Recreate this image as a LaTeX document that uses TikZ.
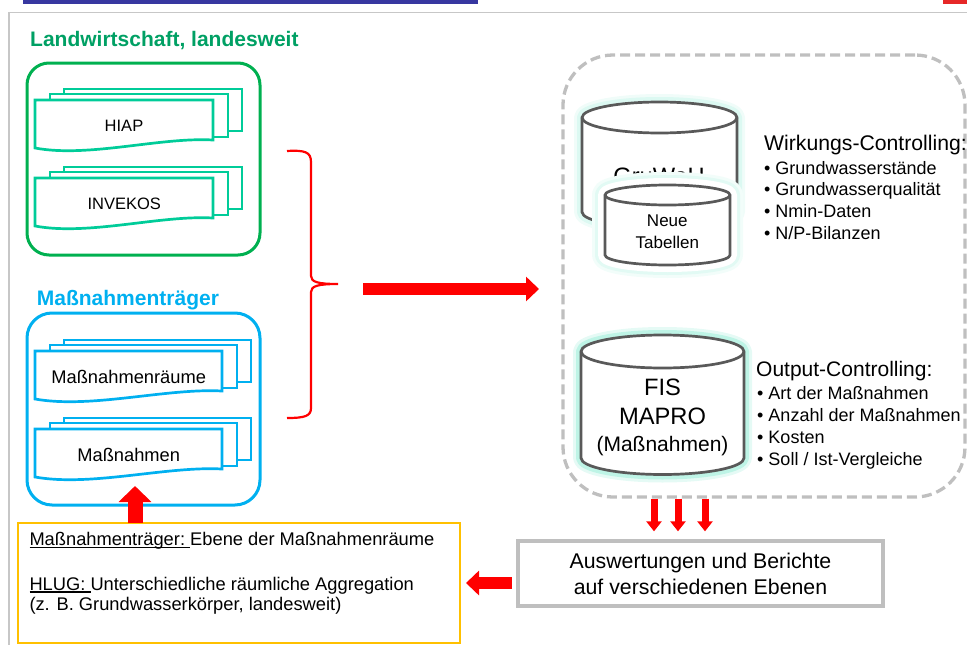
\documentclass[tikz,border=0pt]{standalone}
\usepackage{fontspec}
\setmainfont{Liberation Sans}
\usetikzlibrary{positioning,arrows.meta}

\definecolor{lwgreen}{RGB}{0,176,80}
\definecolor{lwhead}{RGB}{0,160,100}
\definecolor{sheetgreen}{RGB}{0,204,153}
\definecolor{mtblue}{RGB}{0,176,240}
\definecolor{infogold}{RGB}{255,192,0}
\definecolor{framegray}{RGB}{191,191,191}
\definecolor{dbgray}{RGB}{89,89,89}
\definecolor{glowc}{RGB}{110,230,200}
\definecolor{barblue}{RGB}{55,55,160}
\definecolor{barred}{RGB}{230,40,40}

% underlined word with the rule at a fixed depth
\newsavebox\ubox
\newcommand{\uword}[1]{\sbox\ubox{#1}\rlap{\rule[-2.6pt]{\wd\ubox}{1.3pt}}\usebox\ubox}

% stack of three sheets, #1,#2 top left of the front sheet, #3 width, #4 colour
\newcommand{\sheets}[4]{%
  \draw[#4, sheetline, fill=white] (#1+29,#2-11) rectangle (#1+29+#3,#2+31);
  \draw[#4, sheetline, fill=white] (#1+15,#2-6) rectangle (#1+15+#3,#2+37);
  \draw[#4, sheetline, fill=white] (#1,#2) -- (#1+#3,#2) -- (#1+#3,#2+40)
    .. controls (#1+0.7*#3,#2+37) and (#1+0.3*#3,#2+58) .. (#1,#2+48) -- cycle;
}

% database drum: centre x, top y, bottom y, x radius, y radius, glow strokes
\newcommand{\dbcyl}[6]{%
  \foreach \w/\c in {#6}
    \draw[line width=\w pt, line join=round, \c] (#1-#4,#2) -- (#1-#4,#3)
      arc[start angle=180, end angle=360, x radius=#4pt, y radius=#5pt]
      -- (#1+#4,#2) arc[start angle=0, end angle=180, x radius=#4pt, y radius=#5pt] -- cycle;
  \draw[dbline, fill=white] (#1-#4,#2) -- (#1-#4,#3)
    arc[start angle=180, end angle=360, x radius=#4pt, y radius=#5pt]
    -- (#1+#4,#2) arc[start angle=0, end angle=180, x radius=#4pt, y radius=#5pt] -- cycle;
  \draw[dbline] (#1-#4,#2) arc[start angle=180, end angle=360, x radius=#4pt, y radius=#5pt];
}

\begin{document}
\begin{tikzpicture}[x=1pt,y=-1pt,
  txt/.style={inner sep=0pt},
  sheetline/.style={line width=2.7pt},
  dbline/.style={draw=dbgray,line width=2.7pt},
  item/.style={txt,anchor=base west,font=\fontsize{18}{22}\selectfont},
  bigarrow/.style={red,line width=12pt,-{Triangle[length=13pt,width=24pt]}},
  uparrow/.style={red,line width=15pt,-{Triangle[length=16pt,width=32pt]}},
  smallarrow/.style={red,line width=7pt,-{Triangle[length=10pt,width=15pt]}}]
  \useasboundingbox (0,0) rectangle (967,645);

  %Page frame
  \fill[barblue] (23,0) rectangle (478,4);
  \fill[barred] (943,0) rectangle (967,3.5);
  \draw[black!22,line width=1.5pt] (9,645) -- (9,12.3) -- (967,12.3);

  %Left side: data sources
  \node[txt,anchor=base west,font=\bfseries\fontsize{21}{25}\selectfont,text=lwhead] (lwtitle) at (30,46.7) {Landwirtschaft, landesweit};
  \node[draw=lwgreen,line width=3pt,rounded corners=22pt,minimum width=233pt,minimum height=192pt] (lwbox) at (143.5,159) {};
  \sheets{35}{100}{178}{sheetgreen}
  \sheets{35}{178}{178}{sheetgreen}
  \node[txt,anchor=base,font=\fontsize{16.5}{20}\selectfont] (hiap) at (124,131.7) {HIAP};
  \node[txt,anchor=base,font=\fontsize{16.5}{20}\selectfont] (invekos) at (124.3,209.3) {INVEKOS};

  \node[txt,anchor=base west,font=\bfseries\fontsize{21}{25}\selectfont,text=mtblue] (mttitle) at (36.7,305) {Maßnahmenträger};
  \node[draw=mtblue,line width=3pt,rounded corners=25pt,minimum width=233pt,minimum height=192pt] (mtbox) at (143.5,409) {};
  \sheets{35}{351}{187}{mtblue}
  \sheets{35}{429}{187}{mtblue}
  \node[txt,anchor=base,font=\fontsize{18.3}{22}\selectfont] (raeume) at (128.7,383.3) {Maßnahmenräume};
  \node[txt,anchor=base,font=\fontsize{18.3}{22}\selectfont] (massn) at (128.7,461) {Maßnahmen};

  %Brace and arrow to the databases
  \draw[red,line width=2.2pt] (287,151) .. controls (305,150) and (311,152) .. (311,162) -- (311,276)
    .. controls (311,282) and (318,284) .. (338,284) .. controls (318,284) and (311,286) .. (311,292)
    -- (311,408) .. controls (311,416) and (305,418) .. (287,418);
  \coordinate (bracetip) at (363,289);
  \coordinate (ctrlin) at (539,289);
  \draw[bigarrow] (bracetip) -- (ctrlin);

  %Databases
  \node[draw=framegray,line width=3.3pt,dash pattern=on 10pt off 5pt,rounded corners=50pt,minimum width=402pt,minimum height=442pt] (ctrl) at (764,276) {};
  \dbcyl{659.5}{117.5}{212}{77.5}{15.5}{16/glowc!10!white, 10/glowc!24!white}
  \node[txt,anchor=base,font=\fontsize{23.7}{28}\selectfont] (gruwah) at (659,184) {GruWaH};
  \dbcyl{667.5}{195}{255}{62.5}{10}{26/glowc!9!white, 20/glowc!20!white, 14/white}
  \node[txt,align=center,font=\fontsize{17}{21.6}\selectfont] (neu) at (667.3,231.9) {Neue\\Tabellen};

  \dbcyl{662.5}{351.5}{458}{81.5}{16.5}{16/glowc!18!white, 10/glowc!45!white}
  \node[txt,anchor=base,font=\fontsize{23.7}{28}\selectfont] (fis) at (662.5,395) {FIS};
  \node[txt,anchor=base,font=\fontsize{23.7}{28}\selectfont] (mapro) at (662.5,424) {MAPRO};
  \node[txt,anchor=base,font=\fontsize{21}{25}\selectfont] (fisnote) at (662.5,451.7) {(Maßnahmen)};

  %Controlling lists
  \node[txt,anchor=base west,font=\fontsize{21.2}{25}\selectfont] (wirk) at (764,150) {Wirkungs-Controlling:};
  \foreach \t [count=\i from 0] in {Grundwasserstände,Grundwasserqualität,Nmin-Daten,N/P-Bilanzen}
    \node[item] (wirk\i) at (764,174+21.8*\i) {• \t};
  \node[txt,anchor=base west,font=\fontsize{21}{25}\selectfont] (outp) at (756,376.7) {Output-Controlling:};
  \foreach \t [count=\i from 0] in {Art der Maßnahmen,Anzahl der Maßnahmen,Kosten,Soll / Ist-Vergleiche}
    \node[item] (outp\i) at (757,399.3+21.9*\i) {• \t};

  %Reports
  \node[draw=framegray,line width=3.3pt,minimum width=365pt,minimum height=65pt,align=center,font=\fontsize{21.3}{26}\selectfont] (report) at (700.5,573.5) {Auswertungen und Berichte\\auf verschiedenen Ebenen};
  \foreach \x [count=\i] in {654,678,705} {
    \coordinate (d\i) at (\x,0);
    \draw[smallarrow] (ctrl.south -| d\i) -- ([yshift=8pt]report.north -| d\i);
  }

  %Levels
  \node[draw=infogold,line width=2pt,minimum width=442pt,minimum height=120pt] (info) at (239,583) {};
  \node[txt,anchor=base west,font=\fontsize{18.3}{22}\selectfont] (infoa) at (29.3,545.7) {\uword{Maßnahmenträger:\ }Ebene der Maßnahmenräume};
  \node[txt,anchor=base west,font=\fontsize{18.3}{22}\selectfont] (infob) at (29.3,590) {\uword{HLUG:\ }Unterschiedliche räumliche Aggregation};
  \node[txt,anchor=base west,font=\fontsize{18.3}{22}\selectfont] (infoc) at (29.3,610.7) {(z. B. Grundwasserkörper, landesweit)};

  \coordinate (reportout) at (512,583);
  \coordinate (infoin) at (466,583);
  \draw[bigarrow] (reportout) -- (infoin);
  \coordinate (upfoot) at (135,523);
  \coordinate (uptip) at (135,486);
  \draw[uparrow] (upfoot) -- (uptip);
\end{tikzpicture}
\end{document}
